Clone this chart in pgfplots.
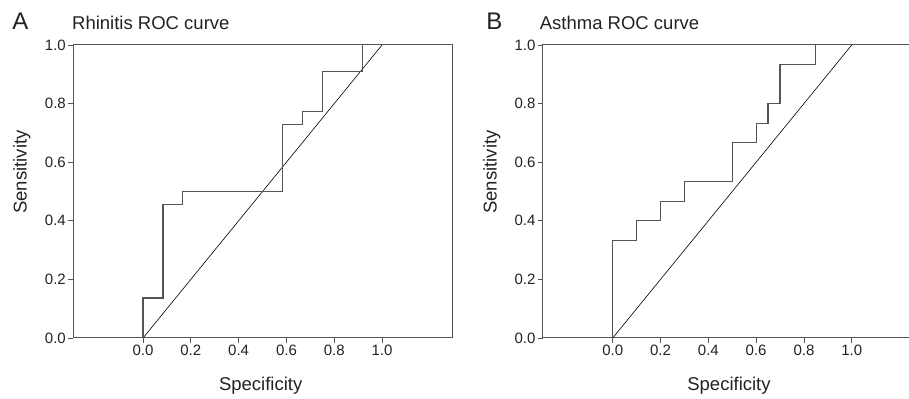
\documentclass[border=0pt]{standalone}
\usepackage{pgfplots}
\pgfplotsset{compat=1.18}
\usepackage{fontspec}
\setmainfont{Liberation Sans}
\definecolor{axgray}{HTML}{555555}
\definecolor{txt}{HTML}{222222}
\pgfplotsset{
  rocaxis/.style={
    anchor=south west, scale only axis,
    width=379.3bp, height=293bp,
    xmin=-0.293, xmax=1.294, ymin=0, ymax=1,
    xtick={0,0.2,0.4,0.6,0.8,1.0},
    ytick={0,0.2,0.4,0.6,0.8,1.0},
    tick pos=left, tick align=outside,
    major tick length=5bp,
    tick style={axgray, line width=0.8bp},
    axis line style={axgray, line width=1bp},
    /pgf/number format/assume math mode=true,
    /pgf/number format/fixed, /pgf/number format/fixed zerofill,
    /pgf/number format/precision=1,
    ticklabel style={font=\fontsize{15bp}{18bp}\selectfont, text=txt},
    yticklabel style={inner sep=2bp},
    xticklabel style={inner sep=2bp},
    clip=false,
  }
}
\begin{document}
\begin{tikzpicture}
\useasboundingbox (0,0) rectangle (909bp,399bp);
\begin{axis}[rocaxis, at={(73bp,61bp)}]
\addplot[black, line width=0.6bp] coordinates {(0,0) (1,1)};
\addplot[axgray, line width=1.2bp] coordinates {
(0,0) (0,0.1364) (0.0833,0.1364) (0.0833,0.4545) (0.1667,0.4545) (0.1667,0.5)
(0.5833,0.5) (0.5833,0.7273) (0.6667,0.7273) (0.6667,0.7727) (0.75,0.7727)
(0.75,0.9091) (0.9167,0.9091) (0.9167,1)};
\end{axis}
\begin{axis}[rocaxis, at={(542.7bp,61bp)}]
\addplot[black, line width=0.6bp] coordinates {(0,0) (1,1)};
\addplot[axgray, line width=1.2bp] coordinates {
(0,0) (0,0.3333) (0.1,0.3333) (0.1,0.4) (0.2,0.4) (0.2,0.4667) (0.3,0.4667)
(0.3,0.5333) (0.5,0.5333) (0.5,0.6667) (0.6,0.6667) (0.6,0.7333) (0.65,0.7333)
(0.65,0.8) (0.7,0.8) (0.7,0.9333) (0.85,0.9333) (0.85,1)};
\end{axis}
\begin{scope}[every node/.style={inner sep=0pt, text=txt}]
\node[anchor=base west, font=\fontsize{24bp}{28bp}\selectfont] at (12.2bp,369bp) {A};
\node[anchor=base west, font=\fontsize{24bp}{28bp}\selectfont] at (486.2bp,369bp) {B};
\node[anchor=base west, font=\fontsize{18.5bp}{22bp}\selectfont] at (72bp,369bp) {Rhinitis ROC curve};
\node[anchor=base west, font=\fontsize{18.5bp}{22bp}\selectfont] at (539.7bp,369bp) {Asthma ROC curve};
\node[anchor=base, font=\fontsize{18.5bp}{22bp}\selectfont] at (260.7bp,9bp) {Specificity};
\node[anchor=base, font=\fontsize{18.5bp}{22bp}\selectfont] at (729bp,9bp) {Specificity};
\node[anchor=base, rotate=90, font=\fontsize{18.5bp}{22bp}\selectfont] at (26.7bp,227bp) {Sensitivity};
\node[anchor=base, rotate=90, font=\fontsize{18.5bp}{22bp}\selectfont] at (496.7bp,227bp) {Sensitivity};
\end{scope}
\end{tikzpicture}
\end{document}
